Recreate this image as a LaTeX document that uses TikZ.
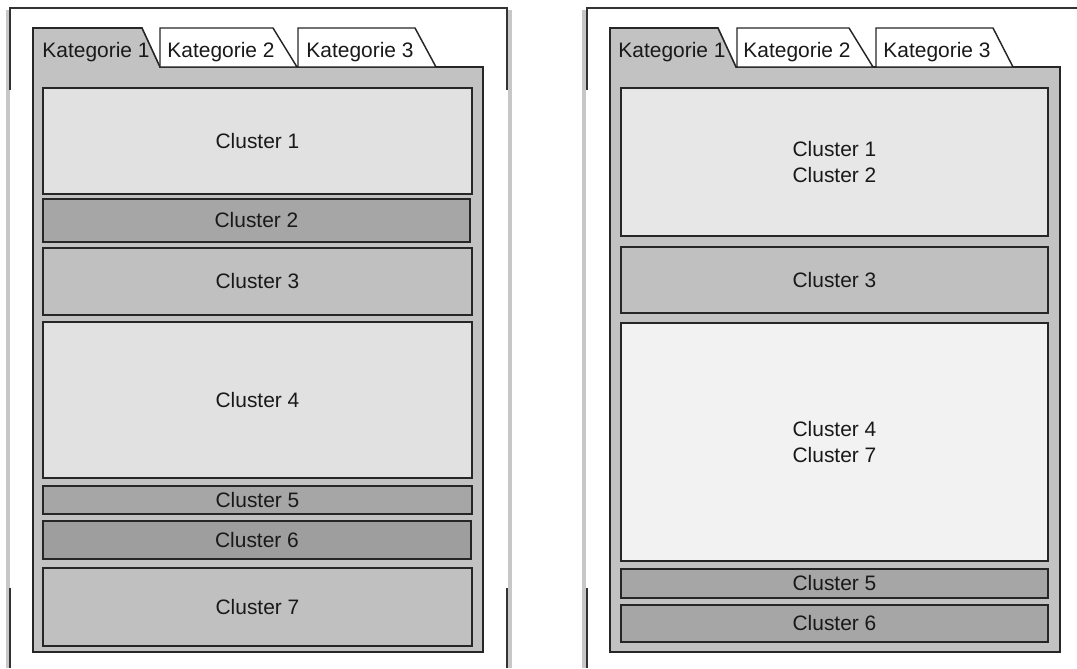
\documentclass[tikz,border=0pt]{standalone}
\usepackage{fontspec}
\setmainfont{Liberation Sans}
\definecolor{panelgrey}{HTML}{C2C2C2}
\definecolor{lightgrey}{HTML}{E1E1E1}
\definecolor{palegrey}{HTML}{F2F2F2}
\definecolor{midgrey}{HTML}{C0C0C0}
\definecolor{darkgrey}{HTML}{A6A6A6}
\tikzset{
  frameline/.style={line width=1.4pt, black!80},
  frameshadow/.style={line width=3pt, black!22},
  panel/.style={draw=black!85, line width=1.2pt, fill=panelgrey},
  tab/.style={draw=black!85, line width=1.1pt, fill=white},
  cluster/.style={draw=black!85, line width=1.3pt},
  label/.style={font=\fontsize{15.7}{18.8}\selectfont, text=black!90, align=center}
}
\begin{document}
\begin{tikzpicture}[x=0.75pt,y=-0.75pt]
    \useasboundingbox (0,0) rectangle (1077,668);
    \draw[frameshadow] (8,10) -- (8,668);
    \draw[frameshadow] (510,10) -- (510,668);
    \draw[frameshadow] (584,10) -- (584,668);
    \draw[frameline] (10,90) -- (10,8) -- (507,8) -- (507,90);
    \draw[frameline] (10,588) -- (10,668);
    \draw[frameline] (507,588) -- (507,668);
    \draw[frameline] (587,90) -- (587,8) -- (1077,8);
    \draw[frameline] (587,588) -- (587,668);

    \draw[panel] (33,28) -- (142,28) -- (160,67) -- (483,67) -- (483,652) -- (33,652) -- cycle;
    \draw[tab] (160,67) -- (160,28) -- (273,28) -- (297,67) -- cycle;
    \draw[tab] (298,67) -- (298,28) -- (415,28) -- (436,67) -- cycle;
    \node[label] (lk1) at (96,52) {Kategorie 1};
    \node[label] (lk2) at (221,52) {Kategorie 2};
    \node[label] (lk3) at (360,52) {Kategorie 3};
    \draw[cluster, fill=lightgrey] (43,88) rectangle (472,194) node[midway, label] (lc1) {Cluster 1};
    \draw[cluster, fill=darkgrey] (43,199) rectangle (470,242) node[midway, label] (lc2) {Cluster 2};
    \draw[cluster, fill=midgrey] (43,248) rectangle (472,315) node[midway, label] (lc3) {Cluster 3};
    \draw[cluster, fill=lightgrey] (43,322) rectangle (472,478) node[midway, label] (lc4) {Cluster 4};
    \draw[cluster, fill=darkgrey] (43,486) rectangle (472,514) node[midway, label] (lc5) {Cluster 5};
    \draw[cluster, fill=darkgrey!95!black] (43,521) rectangle (471,559) node[midway, label] (lc6) {Cluster 6};
    \draw[cluster, fill=midgrey] (43,568) rectangle (472,646) node[midway, label] (lc7) {Cluster 7};

    \draw[panel] (610,28) -- (718,28) -- (736,67) -- (1060,67) -- (1060,652) -- (610,652) -- cycle;
    \draw[tab] (737,67) -- (737,28) -- (849,28) -- (873,67) -- cycle;
    \draw[tab] (876,67) -- (876,28) -- (993,28) -- (1013,67) -- cycle;
    \node[label] (rk1) at (672,52) {Kategorie 1};
    \node[label] (rk2) at (797,52) {Kategorie 2};
    \node[label] (rk3) at (937,52) {Kategorie 3};
    \draw[cluster, fill=lightgrey!80!white] (621,88) rectangle (1048,236) node[midway, label] (rc12) {Cluster 1\\Cluster 2};
    \draw[cluster, fill=midgrey] (621,247) rectangle (1048,313) node[midway, label] (rc3) {Cluster 3};
    \draw[cluster, fill=palegrey] (621,323) rectangle (1048,561) node[midway, label] (rc47) {Cluster 4\\Cluster 7};
    \draw[cluster, fill=darkgrey] (621,569) rectangle (1048,598) node[midway, label] (rc5) {Cluster 5};
    \draw[cluster, fill=darkgrey] (621,605) rectangle (1048,642) node[midway, label] (rc6) {Cluster 6};
\end{tikzpicture}
\end{document}
